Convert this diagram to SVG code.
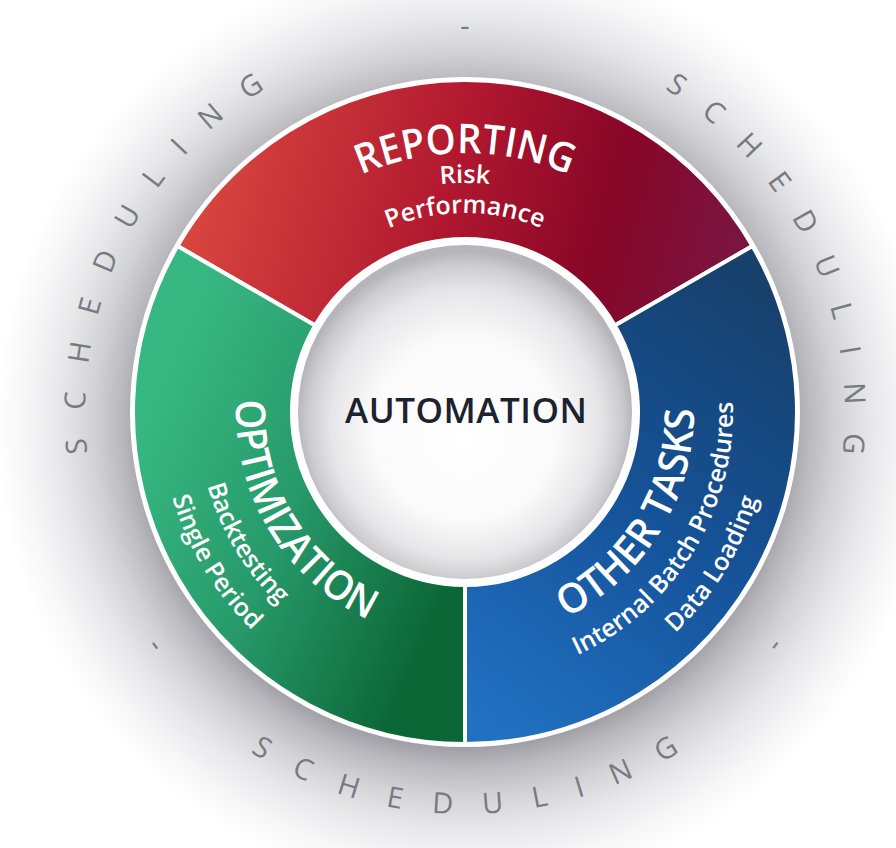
<svg xmlns="http://www.w3.org/2000/svg" width="896" height="848" viewBox="0 0 896 848">
<style>
.sched{font-family:"Open Sans","Noto Sans",sans-serif;font-size:29px;fill:#767b83;}
.title{font-family:"Open Sans","Noto Sans",sans-serif;font-weight:600;font-size:41px;fill:#ffffff;}
.sub{font-family:"Open Sans","Noto Sans",sans-serif;font-weight:600;font-size:25px;fill:#ffffff;}
.center{font-family:"Open Sans","Noto Sans",sans-serif;font-weight:600;font-size:35px;fill:#1c2230;}
.seg{stroke:#ffffff;stroke-width:4;stroke-linejoin:miter;}
</style>
<defs>
<radialGradient id="halo" gradientUnits="userSpaceOnUse" cx="465" cy="424" r="470">
<stop offset="0.69" stop-color="#a0a0a6"/>
<stop offset="0.73" stop-color="#b8b8bd"/>
<stop offset="0.79" stop-color="#d2d2d6"/>
<stop offset="0.86" stop-color="#e7e7e9"/>
<stop offset="0.94" stop-color="#f7f7f8"/>
<stop offset="1" stop-color="#ffffff"/>
</radialGradient>
<linearGradient id="gRed" gradientUnits="userSpaceOnUse" x1="200" y1="180" x2="720" y2="320">
<stop offset="0" stop-color="#d8463f"/>
<stop offset="0.45" stop-color="#b1182f"/>
<stop offset="0.75" stop-color="#870627"/>
<stop offset="1" stop-color="#7a1542"/>
</linearGradient>
<linearGradient id="gGreen" gradientUnits="userSpaceOnUse" x1="140" y1="420" x2="460" y2="560">
<stop offset="0" stop-color="#37b882"/>
<stop offset="0.5" stop-color="#27996a"/>
<stop offset="1" stop-color="#0c6737"/>
</linearGradient>
<linearGradient id="gBlue" gradientUnits="userSpaceOnUse" x1="480" y1="720" x2="780" y2="300">
<stop offset="0" stop-color="#2171c2"/>
<stop offset="0.5" stop-color="#15539a"/>
<stop offset="1" stop-color="#17406b"/>
</linearGradient>
<radialGradient id="disc" gradientUnits="userSpaceOnUse" cx="465" cy="420" r="168" fx="465" fy="440">
<stop offset="0" stop-color="#ffffff"/>
<stop offset="0.55" stop-color="#fafafa"/>
<stop offset="0.8" stop-color="#e6e6e8"/>
<stop offset="0.93" stop-color="#cdcdd1"/>
<stop offset="1" stop-color="#b5b5ba"/>
</radialGradient>
<path id="pSchedL" d="M269.29,737.72 A380,380 0 0 1 601.18,57.24"/>
<path id="pSchedR" d="M328.82,57.24 A380,380 0 0 1 660.71,737.72"/>
<path id="pSchedT" d="M90.44,379.20 A376,376 0 0 1 839.56,379.20"/>
<path id="pSchedB" d="M64.53,447.04 A402,402 0 0 0 865.47,447.04"/>
<path id="pDashB" d="M70.51,446.51 A396,396 0 0 0 859.49,446.51"/>
<path id="pRep" d="M206.99,389.43 A259,259 0 0 1 723.01,389.43"/>
<path id="pRisk" d="M236.87,392.04 A229,229 0 0 1 693.13,392.04"/>
<path id="pPerf" d="M266.76,394.66 A199,199 0 0 1 663.24,394.66"/>
<path id="pOpt" d="M330.40,226.73 A229,229 0 0 0 565.39,617.82"/>
<path id="pBack" d="M307.47,195.18 A268,268 0 0 0 582.48,652.88"/>
<path id="pSing" d="M285.73,165.25 A305,305 0 0 0 598.70,686.13"/>
<path id="pOth" d="M362.82,616.94 A229,229 0 0 0 601.21,227.92"/>
<path id="pInt" d="M345.42,651.84 A268,268 0 0 0 624.41,196.57"/>
<path id="pData" d="M328.91,684.95 A305,305 0 0 0 646.42,166.82"/>
</defs>
<rect width="896" height="848" fill="#ffffff"/>
<circle cx="465" cy="424" r="470" fill="url(#halo)"/>

<g id="scheduling">
<text class="sched"><textPath href="#pSchedL" startOffset="50%" text-anchor="middle" textLength="428" lengthAdjust="spacing">SCHEDULING</textPath></text>
<text class="sched"><textPath href="#pSchedR" startOffset="50%" text-anchor="middle" textLength="428" lengthAdjust="spacing">SCHEDULING</textPath></text>
<text class="sched"><textPath href="#pSchedT" startOffset="50%" text-anchor="middle">-</textPath></text>
<text class="sched"><textPath href="#pSchedB" startOffset="50%" text-anchor="middle" textLength="453" lengthAdjust="spacing">SCHEDULING</textPath></text>
<text class="sched"><textPath href="#pDashB" startOffset="221.2" text-anchor="middle">-</textPath></text>
<text class="sched"><textPath href="#pDashB" startOffset="953.7" text-anchor="middle">-</textPath></text>
</g>

<circle cx="465" cy="412" r="335" fill="#ffffff"/>

<g id="node-reporting">
<path class="seg" fill="url(#gRed)" d="M177.48,246 A332,332 0 0 1 752.52,246 L614.82,325.5 A173,173 0 0 0 315.18,325.5 Z"/>
<text class="title"><textPath href="#pRep" startOffset="50%" text-anchor="middle" textLength="214" lengthAdjust="spacingAndGlyphs">REPORTING</textPath></text>
<text class="sub"><textPath href="#pRisk" startOffset="50%" text-anchor="middle">Risk</textPath></text>
<text class="sub"><textPath href="#pPerf" startOffset="50%" text-anchor="middle">Performance</textPath></text>
</g>

<g id="node-other-tasks">
<path class="seg" fill="url(#gBlue)" d="M752.52,246 A332,332 0 0 1 465,744 L465,585 A173,173 0 0 0 614.82,325.5 Z"/>
<text class="title"><textPath href="#pOth" startOffset="50%" text-anchor="middle" textLength="258" lengthAdjust="spacingAndGlyphs">OTHER TASKS</textPath></text>
<text class="sub"><textPath href="#pInt" startOffset="50%" text-anchor="middle">Internal Batch Procedures</textPath></text>
<text class="sub"><textPath href="#pData" startOffset="50%" text-anchor="middle">Data Loading</textPath></text>
</g>

<g id="node-optimization">
<path class="seg" fill="url(#gGreen)" d="M465,744 A332,332 0 0 1 177.48,246 L315.18,325.5 A173,173 0 0 0 465,585 Z"/>
<text class="title"><textPath href="#pOpt" startOffset="50%" text-anchor="middle" textLength="272" lengthAdjust="spacingAndGlyphs">OPTIMIZATION</textPath></text>
<text class="sub"><textPath href="#pBack" startOffset="50%" text-anchor="middle">Backtesting</textPath></text>
<text class="sub"><textPath href="#pSing" startOffset="50%" text-anchor="middle">Single Period</textPath></text>
</g>

<g id="node-automation">
<circle cx="465" cy="412" r="171" fill="#ffffff"/>
<circle cx="465" cy="412" r="167" fill="url(#disc)"/>
<text class="center" x="466" y="423" text-anchor="middle" textLength="242" lengthAdjust="spacing">AUTOMATION</text>
</g>
</svg>
